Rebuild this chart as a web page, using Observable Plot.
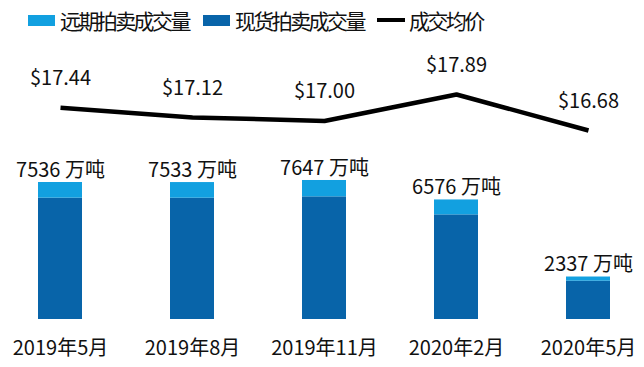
<!DOCTYPE html>
<html><head><meta charset="utf-8">
<script src="https://cdn.jsdelivr.net/npm/d3@7"></script>
<script src="https://cdn.jsdelivr.net/npm/@observablehq/plot@0.6"></script>
<style>
body{margin:0;background:#fff;font-family:"Noto Sans CJK SC","Noto Sans",sans-serif;color:#111;}
#legend{position:relative;height:38px;width:644px;overflow:hidden;}
.item{position:absolute;top:0;height:40px;display:flex;align-items:center;font-size:21px;letter-spacing:-2.6px;white-space:nowrap;}
.sw{display:inline-block;width:27px;height:11px;margin-right:5px;}
.ln{display:inline-block;width:28px;height:4px;background:#000;margin-right:4px;}
</style></head><body>
<div id="legend"></div>
<div id="chart"></div>
<script>
const months = ["2019年5月", "2019年8月", "2019年11月", "2020年2月", "2020年5月"];
const totals = [7536, 7533, 7647, 6576, 2337];
const spot = [6676, 6673, 6747, 5756, 2107];
const advance = [860, 860, 900, 820, 230];
const prices = [17.44, 17.12, 17.00, 17.89, 16.68];
const seriesNames = ["远期拍卖成交量", "现货拍卖成交量", "成交均价"];
const colors = ["#12a0e0", "#0864a9", "#000000"];
const unit = "万吨";

// legend
const legend = document.getElementById("legend");
const lx = [28, 203, 377];
seriesNames.forEach((n, i) => {
  const d = document.createElement("div");
  d.className = "item";
  d.style.left = lx[i] + "px";
  const s = document.createElement("span");
  if (i < 2) { s.className = "sw"; s.style.background = colors[i]; }
  else { s.className = "ln"; }
  d.appendChild(s);
  d.appendChild(document.createTextNode(n));
  legend.appendChild(d);
});

const stackRows = [];
months.forEach((m, i) => {
  stackRows.push({month: m, series: seriesNames[1], value: spot[i]});
  stackRows.push({month: m, series: seriesNames[0], value: advance[i]});
});
const totalRows = months.map((m, i) => ({month: m, total: totals[i]}));
const priceRows = months.map((m, i) => ({month: m, price: prices[i]}));

// secondary (price) axis mapped onto the volume axis
const priceToY = d3.scaleLinear().domain([10.33, 18.88]).range([0, 14000]);

const chart = Plot.plot({
  width: 644,
  height: 329,
  marginLeft: 0, marginRight: 0, marginTop: 0, marginBottom: 48,
  style: {fontFamily: '"Noto Sans CJK SC","Noto Sans",sans-serif', color: "#111", background: "#fff"},
  x: {domain: months, range: [36, 611], paddingInner: 0.668, paddingOuter: 0, label: null},
  y: {domain: [0, 14000], range: [281, 26.5], axis: null},
  color: {domain: seriesNames.slice(0, 2), range: colors.slice(0, 2)},
  marks: [
    Plot.barY(stackRows, {x: "month", y: "value", fill: "series", order: [seriesNames[1], seriesNames[0]]}),
    Plot.text(totalRows, {x: "month", y: "total", text: d => `${d.total} ${unit}`, dy: -12, fontSize: 20, fill: "#111"}),
    Plot.line(priceRows, {x: "month", y: d => priceToY(d.price), stroke: colors[2], strokeWidth: 4.5, strokeLinejoin: "miter", strokeLinecap: "butt"}),
    Plot.text(priceRows, {x: "month", y: d => priceToY(d.price), text: d => "$" + d.price.toFixed(2), dy: -29, fontSize: 20, fill: "#111"}),
    Plot.axisX({tickSize: 0, tickPadding: 21, fontSize: 20, fill: "#111", label: null})
  ]
});
document.getElementById("chart").appendChild(chart);
</script>
</body></html>
